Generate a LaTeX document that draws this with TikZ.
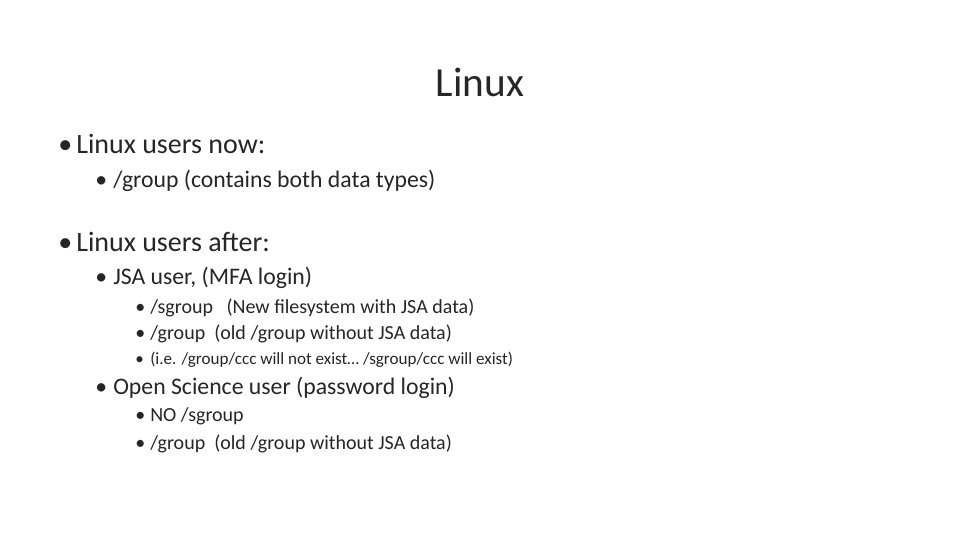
\documentclass[tikz,border=0pt]{standalone}
\usepackage{fontspec}
\setmainfont{Carlito}
\begin{document}
\begin{tikzpicture}[x=0.75pt,y=-0.75pt,
 t/.style={anchor=base west,inner sep=0pt,text=black!85},
 la/.style={t,font=\fontsize{21}{23}\selectfont},
 lb/.style={t,font=\fontsize{17.8}{20}\selectfont},
 lc/.style={t,font=\fontsize{15}{17}\selectfont},
 ld/.style={t,font=\fontsize{12.8}{14}\selectfont}]
\useasboundingbox[fill=white] (0,0) rectangle (960,540);
\node[t,anchor=base,font=\fontsize{31}{34}\selectfont] (title) at (480,96) {Linux};
\node[la] (b1) at (58,153) {•}; \node[la] (a1) at (76,153) {Linux users now:};
\node[lb] (b2) at (95,187) {•}; \node[lb] (a2) at (113,187) {/group (contains both data types)};
\node[la] (b3) at (58,251) {•}; \node[la] (a3) at (76,251) {Linux users after:};
\node[lb] (b4) at (95,284) {•}; \node[lb] (a4) at (113,284) {JSA user, (MFA login)};
\node[lc] (b5) at (135,313) {•}; \node[lc] (a5) at (150,313) {/sgroup \ \ (New filesystem with JSA data)};
\node[lc] (b6) at (135,339) {•}; \node[lc] (a6) at (150,339) {/group \ (old /group without JSA data)};
\node[ld] (b7) at (135,364) {•}; \node[ld] (a7) at (150,364) {(i.e. /group/ccc will not exist… /sgroup/ccc will exist)};
\node[lb] (b8) at (95,394) {•}; \node[lb] (a8) at (113,394) {Open Science user (password login)};
\node[lc] (b9) at (135,421) {•}; \node[lc] (a9) at (150,421) {NO /sgroup};
\node[lc] (b10) at (135,449) {•}; \node[lc] (a10) at (150,449) {/group \ (old /group without JSA data)};
\end{tikzpicture}
\end{document}
